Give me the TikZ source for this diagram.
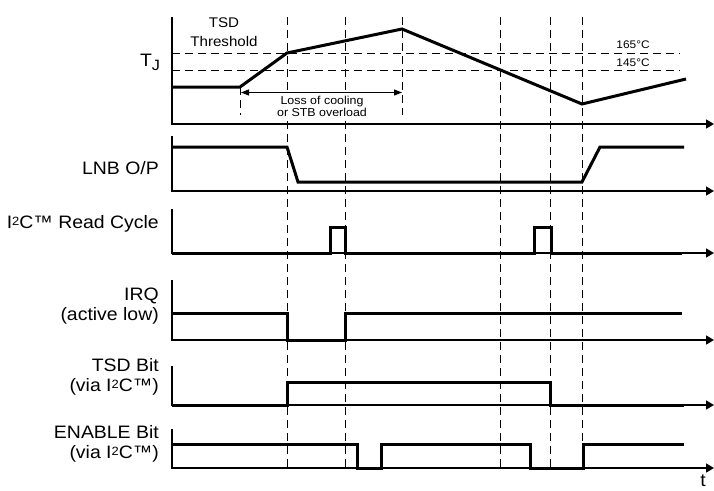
\documentclass[tikz,border=0pt]{standalone}
\usepackage{fontspec}
\setmainfont[FakeStretch=1.08]{Liberation Sans}
\usetikzlibrary{arrows.meta}
\newcommand{\two}{\raisebox{3.5pt}{\fontsize{12}{12}\selectfont 2}}
\begin{document}
\begin{tikzpicture}[x=1pt,y=-1pt,
  sig/.style={line width=3pt, line join=miter},
  axisline/.style={line width=1.6pt, -{Triangle[length=8pt,width=9pt]}},
  guide/.style={line width=0.8pt, dash pattern=on 8pt off 5pt},
  lab/.style={font=\fontsize{18}{20}\selectfont, anchor=east, align=right, inner sep=0pt},
  small/.style={font=\fontsize{11}{12}\selectfont, align=center, inner sep=0pt},
]
\useasboundingbox (0,0) rectangle (714,490);

% dashed guides
\foreach \x in {287,345,500,550,582}
  \draw[guide] (\x,17) -- (\x,468);
\draw[guide] (402,17) -- (402,115);
\draw[guide] (240,87) -- (240,115);
\draw[guide] (172,53) -- (680,53);
\draw[guide] (172,70) -- (680,70);

% axes
\coordinate (a1t) at (172,17);  \coordinate (a1b) at (172,124); \coordinate (a1e) at (714,124);
\coordinate (a2t) at (172,136); \coordinate (a2b) at (172,191); \coordinate (a2e) at (714,191);
\coordinate (a3t) at (172,209); \coordinate (a3b) at (172,253); \coordinate (a3e) at (714,253);
\coordinate (a4t) at (172,280); \coordinate (a4b) at (172,340); \coordinate (a4e) at (714,340);
\coordinate (a5t) at (172,366); \coordinate (a5b) at (172,405); \coordinate (a5e) at (714,405);
\coordinate (a6t) at (172,429); \coordinate (a6b) at (172,468); \coordinate (a6e) at (714,468);
\foreach \i in {1,...,6}
  \draw[axisline] (a\i t) -- (a\i b) -- (a\i e);

% signals
\draw[sig] (172,87) -- (240,87) -- (287,53) -- (402,29) -- (582,104) -- (686,79);
\draw[sig] (172,147) -- (287,147) -- (298,182) -- (582,182) -- (600,147) -- (684,147);
\draw[sig] (172,253) -- (330,253) -- (330,227) -- (345,227) -- (345,253) -- (534,253)
  -- (534,227) -- (551,227) -- (551,253) -- (682,253);
\draw[sig] (172,313) -- (287,313) -- (287,340) -- (345,340) -- (345,313) -- (682,313);
\draw[sig] (172,405) -- (287,405) -- (287,382) -- (550,382) -- (550,405) -- (684,405);
\draw[sig] (172,444) -- (357,444) -- (357,468) -- (381,468) -- (381,444) -- (530,444)
  -- (530,468) -- (583,468) -- (583,444) -- (684,444);

% loss of cooling arrow
\node[font=\fontsize{11.5}{12}\selectfont, align=center, inner sep=1.5pt, fill=white] (loss) at (322,106) {Loss of cooling\\or STB overload};
\coordinate (lcA) at (241,92.5);
\coordinate (lcB) at (402,92.5);
\draw[line width=1.2pt, {Triangle[length=8pt,width=6pt]}-{Triangle[length=8pt,width=6pt]}] (lcA) -- (lcB);

% texts
\node[font=\fontsize{14}{19}\selectfont, align=center, inner sep=0pt] (tsdth) at (224,32.5) {TSD\\Threshold};
\node[font=\fontsize{18}{20}\selectfont, inner sep=0pt] (tj) at (150,62) {T\raisebox{-4pt}{\fontsize{15}{15}\selectfont J}};
\node[small] (t165) at (633,45) {165°C};
\node[small] (t145) at (633,63) {145°C};
\node[font=\fontsize{18}{20}\selectfont, inner sep=0pt] (tlab) at (703,481) {t};

\node[lab] (lnb) at (159,168) {LNB O/P};
\node[lab] (i2c) at (159,224) {I\two C™ Read Cycle};
\node[lab] (irq) at (159,306) {IRQ\\(active low)};
\node[lab] (tsd) at (159,377) {TSD Bit\\(via I\two C™)};
\node[lab] (en) at (159,444) {ENABLE Bit\\(via I\two C™)};
\end{tikzpicture}
\end{document}
